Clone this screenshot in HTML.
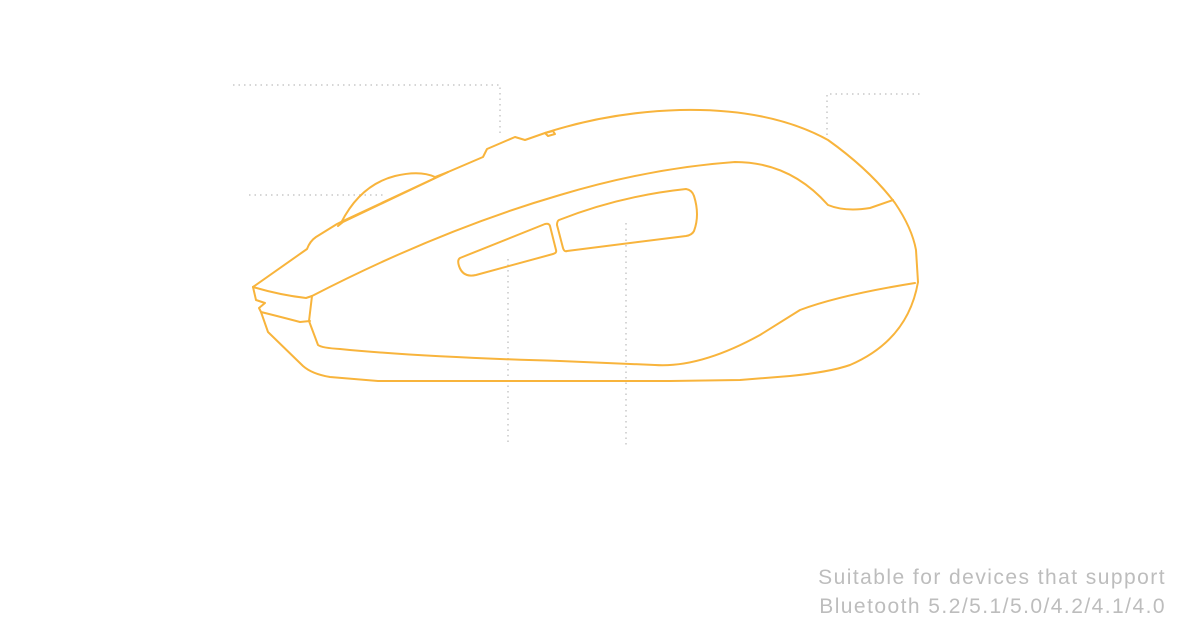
<!DOCTYPE html>
<html><head><meta charset="utf-8"><style>
html,body{margin:0;padding:0;background:#fff;width:1200px;height:640px;overflow:hidden}
.t{position:absolute;right:34px;font-family:"Liberation Sans",sans-serif;font-size:21px;color:#bdbdbd;letter-spacing:1.45px;text-align:right;white-space:nowrap}
</style></head><body>
<svg width="1200" height="640" style="position:absolute;left:0;top:0">
<g stroke="#c8c8c8" stroke-width="1.5" stroke-dasharray="1.5 4" fill="none">
<path d="M233 85H500V137"/>
<path d="M249 195H386"/>
<path d="M508 259V445"/>
<path d="M626 223V445"/>
<path d="M827 135V94H920"/>
</g>
<g stroke="#f8b43c" stroke-width="2" fill="none" stroke-linejoin="round" stroke-linecap="round">
<path d="M253 287 L307 249 Q310 241 316 237 L337 224 L343 221 L448 172 L483 157 L487 149 L515 137 L525 140 L545 133 Q610 112 680 110 Q770 108 828 140 Q870 170 895 203 Q912 228 916 250 L918 282"/>
<path d="M918 282 Q908 340 850 365 Q830 372 790 376 L740 380 L670 381 L378 381 L330 377 Q312 374 303 366 L268 332 L261 312 L259 308 L265 303 L256 300 L253 287"/>
<path d="M253 287 Q280 295 306 298 L312 296"/>
<path d="M261 312 Q285 318 300 322 L310 321"/>
<path d="M312 296 L309 321 L318 345 Q322 348 340 349 Q420 357 560 361 L655 365 Q700 368 760 335 L800 310 Q840 295 915 283"/>
<path d="M312 296 Q440 230 560 195 Q650 168 735 162 Q790 162 828 205 Q845 212 870 208 L893 200"/>
<path d="M341 223 Q360 185 395 176 Q420 170 435 177"/>
<path d="M338 226 L343 222 L448 172"/>
<path d="M435 177 L448 172"/>
<path d="M545 133 L553 131 L555 134 L548 136 Z"/>
<path d="M460 258 L545 224 Q549 223 550 226 L556 250 Q557 253 553 254 L476 275 Q463 278 459 266 Q457 260 460 258 Z"/>
<path d="M559 220 Q620 196 686 189 Q692 190 694 196 Q700 215 694 231 Q692 235 686 236 L567 251 Q564 252 563 248 L557 225 Q557 221 559 220 Z"/>
</g>
</svg>
<div class="t" style="top:566px">Suitable for devices that support</div>
<div class="t" style="top:595px">Bluetooth 5.2/5.1/5.0/4.2/4.1/4.0</div>
</body></html>
